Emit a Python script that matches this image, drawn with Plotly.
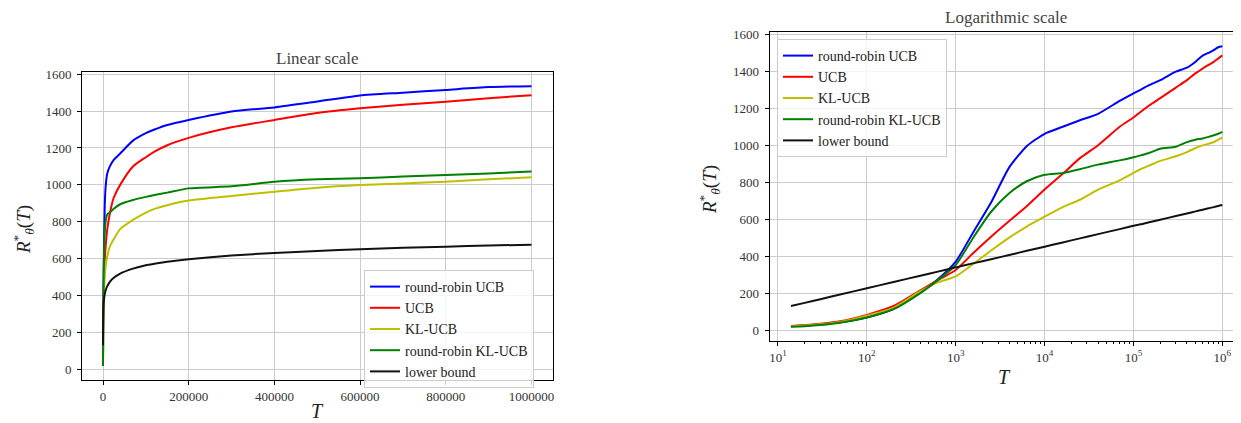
import plotly.graph_objects as go

# ---- data ----
T = [14, 20, 30, 50, 100, 200, 400, 630, 1000, 1600, 2500, 4000, 6300, 10000,
     16000, 25000, 40000, 70000, 100000, 120000, 150000, 200000, 300000, 400000,
     500000, 600000, 700000, 800000, 900000, 1000000]

rr_ucb = [20, 24, 30, 42, 68, 115, 205, 275, 370, 535, 690, 880, 995, 1062,
          1100, 1135, 1170, 1240, 1280, 1300, 1325, 1352, 1398, 1420, 1452, 1485,
          1500, 1515, 1530, 1535]

ucb = [22, 27, 34, 47, 82, 130, 215, 270, 325, 420, 505, 590, 670, 760,
       845, 930, 1000, 1100, 1150, 1180, 1215, 1255, 1312, 1352, 1390, 1415,
       1435, 1451, 1470, 1486]

kl_ucb = [20, 24, 31, 44, 78, 120, 210, 258, 290, 360, 430, 500, 560, 613,
          665, 705, 760, 810, 850, 870, 890, 915, 940, 963, 985, 999, 1008, 1017,
          1030, 1041]

rr_kl_ucb = [18, 21, 27, 39, 68, 113, 200, 270, 352, 505, 640, 740, 805, 840,
             850, 870, 895, 918, 935, 945, 958, 981, 992, 1017, 1030, 1036, 1045,
             1054, 1062, 1072]

lower_bound = [130, 147, 167, 192, 226, 260, 294, 316, 339, 362, 383, 406, 429,
               451, 474, 496, 519, 546, 564, 572, 583, 597, 617, 631, 642, 651, 659,
               665, 671, 676]

series_names = ["round-robin UCB", "UCB", "KL-UCB", "round-robin KL-UCB", "lower bound"]
series_values = [rr_ucb, ucb, kl_ucb, rr_kl_ucb, lower_bound]
series_colors = ["#0000ff", "#ff0000", "#bfbf00", "#008000", "#111111"]

lin_ticks = [0, 200000, 400000, 600000, 800000, 1000000]
lin_labels = ["0", "200000", "400000", "600000", "800000", "1000000"]
log_ticks = [10, 100, 1000, 10000, 100000, 1000000]
log_labels = ["10<sup>1</sup>", "10<sup>2</sup>", "10<sup>3</sup>",
              "10<sup>4</sup>", "10<sup>5</sup>", "10<sup>6</sup>"]
y_ticks = [0, 200, 400, 600, 800, 1000, 1200, 1400, 1600]

# the page body has an 8px margin, so the figure is sized to fit the window
OFF = 8
W, H = 1241 - OFF, 423 - OFF


def px(x):
    return (x - OFF) / W


def py(y):
    return (423 - y) / H


FONT = "'Liberation Serif', 'Times New Roman', 'DejaVu Serif', serif"
TXT = "#333333"
GRID = "#cccccc"

fig = go.Figure()
for name, vals, col in zip(series_names, series_values, series_colors):
    fig.add_trace(go.Scatter(x=T, y=vals, mode="lines", name=name,
                             line=dict(color=col, width=2, shape="spline", smoothing=0.6),
                             xaxis="x", yaxis="y", legend="legend"))
for name, vals, col in zip(series_names, series_values, series_colors):
    fig.add_trace(go.Scatter(x=T, y=vals, mode="lines", name=name,
                             line=dict(color=col, width=2, shape="spline", smoothing=0.6),
                             xaxis="x2", yaxis="y2", legend="legend2"))

minor_vals = [m * 10 ** k for k in range(1, 7) for m in range(2, 10)]

common = dict(showgrid=True, gridcolor=GRID, gridwidth=1, showline=True,
              linecolor="#000000", linewidth=1, ticks="outside", ticklen=4,
              tickcolor="#000000", zeroline=False, automargin=False,
              tickfont=dict(family=FONT, size=13, color=TXT))

fig.update_layout(
    width=W, height=H,
    margin=dict(l=0, r=0, t=0, b=0, autoexpand=False),
    font=dict(family=FONT),
    paper_bgcolor="white", plot_bgcolor="white",
    xaxis=dict(domain=[px(82), px(552.7)], range=[-49000, 1049500],
               tickmode="array", tickvals=lin_ticks, ticktext=lin_labels,
               mirror=True, anchor="y", **common),
    yaxis=dict(domain=[py(380), py(72)], range=[-58, 1612],
               tickmode="array", tickvals=y_ticks, mirror=True, anchor="x",
               ticklabelstandoff=3, **common),
    xaxis2=dict(type="log", domain=[px(769.7), 1.0], range=[0.907, 6.21],
                tickmode="array", tickvals=log_ticks, ticktext=log_labels,
                mirror=True, anchor="y2",
                minor=dict(tickmode="array", tickvals=minor_vals, ticks="outside",
                           ticklen=2, tickcolor="#000000", showgrid=False),
                **common),
    yaxis2=dict(domain=[py(341.3), py(32.3)], range=[-61, 1611],
                tickmode="array", tickvals=y_ticks, mirror=False, anchor="x2",
                ticklabelstandoff=3, **common),
    legend=dict(x=px(364), y=py(270), xanchor="left", yanchor="top",
                bgcolor="rgba(255,255,255,0.8)", bordercolor="#cccccc",
                borderwidth=1, font=dict(family=FONT, size=14, color="#222222")),
    legend2=dict(x=px(777), y=py(39), xanchor="left", yanchor="top",
                 bgcolor="rgba(255,255,255,0.8)", bordercolor="#cccccc",
                 borderwidth=1, font=dict(family=FONT, size=14, color="#222222")),
    showlegend=True,
)

ylab = "<i>R</i><sup>*</sup><sub><i>θ</i></sub>(<i>T</i>)"
ann = [
    dict(text="Linear scale", x=px(317), y=py(58.3), font=dict(size=17, color="#444444")),
    dict(text="Logarithmic scale", x=px(1005.8), y=py(18), font=dict(size=17, color="#444444")),
    dict(text="<i>T</i>", x=px(317), y=py(411), font=dict(size=20, color="#222222")),
    dict(text="<i>T</i>", x=px(1004), y=py(377), font=dict(size=20, color="#222222")),
    dict(text=ylab, x=px(23), y=py(230), textangle=-90, font=dict(size=19, color="#222222")),
    dict(text=ylab, x=px(709), y=py(190), textangle=-90, font=dict(size=19, color="#222222")),
]
for a in ann:
    a["font"]["family"] = FONT
    fig.add_annotation(xref="paper", yref="paper", showarrow=False,
                       xanchor="center", yanchor="middle", **a)

fig.write_html("out.html")
